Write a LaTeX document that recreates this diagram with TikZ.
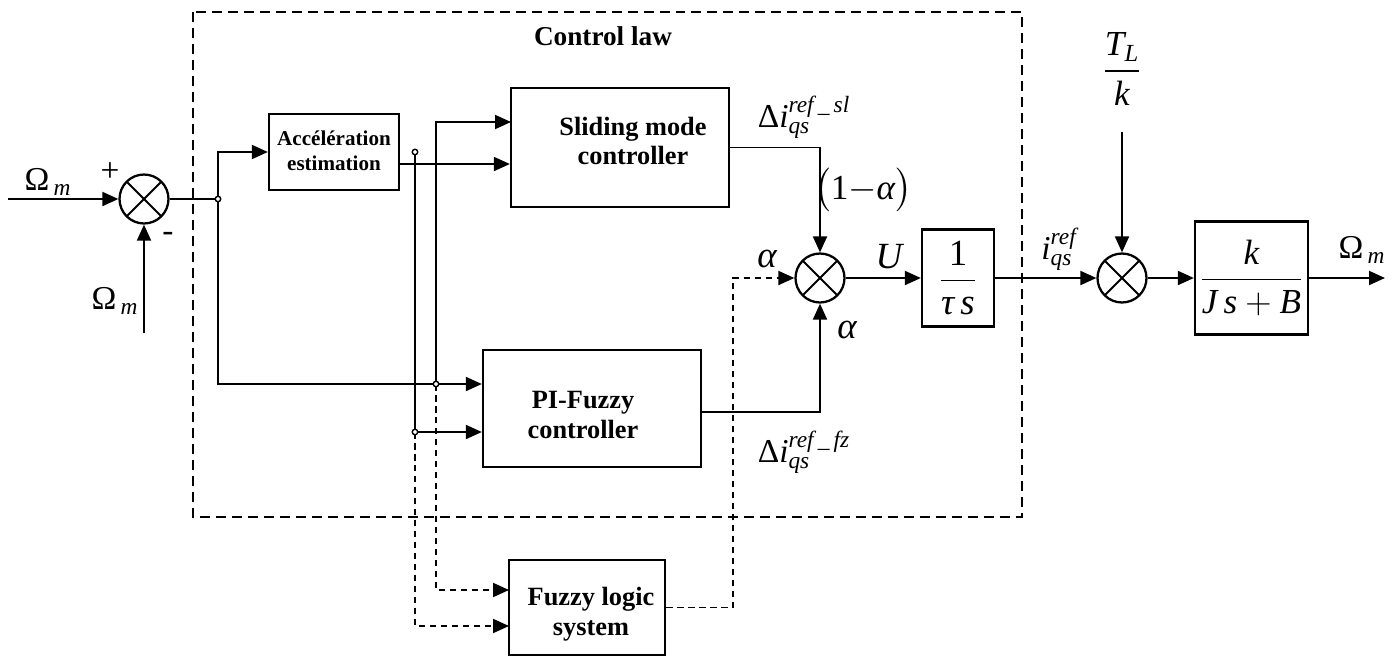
\documentclass[tikz,border=0pt]{standalone}
\usepackage{fontspec}
\setmainfont{Liberation Serif}
\usepackage{amsmath}
\usetikzlibrary{arrows.meta,calc}
\newcommand\mi[1]{\text{\itshape #1}}
\begin{document}
\begin{tikzpicture}[x=0.02cm,y=-0.02cm,line width=1.1pt,
  arr/.style={-{Triangle[length=0.32cm,width=0.28cm]}},
  box/.style 2 args={draw,line width=1.3pt,inner sep=0pt,minimum width=#1*0.02cm,minimum height=#2*0.02cm},
  sumj/.style={circle,draw,line width=1.3pt,minimum size=0.98cm,inner sep=0pt,
    path picture={\draw[line width=1.1pt] (path picture bounding box.north west)--(path picture bounding box.south east)
      (path picture bounding box.north east)--(path picture bounding box.south west);}},
  jdot/.style={circle,draw,fill=white,line width=0.8pt,inner sep=0pt,minimum size=0.11cm},
  dsig/.style={dash pattern=on 0.13cm off 0.09cm},
  cbox/.style={dash pattern=on 0.2cm off 0.12cm},
  bxfont/.style={font=\fontsize{15}{17}\selectfont\bfseries,align=center,inner sep=0pt},
  accfont/.style={font=\fontsize{12}{14.2}\selectfont\bfseries,align=center,inner sep=0pt},
  lbl/.style={font=\fontsize{19}{21}\selectfont,inner sep=0pt},
  lblb/.style={font=\fontsize{21}{23}\selectfont,inner sep=0pt}]
\useasboundingbox (0,0) rectangle (1397,656);

% control law frame
\draw[cbox] (193,12) rectangle (1022,517);
\node[font=\fontsize{15.5}{17}\selectfont\bfseries,inner sep=0pt] (title) at (603,36) {Control law};

% summing junctions
\node[sumj] (s1) at (144,199) {};
\node[sumj] (s2) at (820,278) {};
\node[sumj] (s3) at (1122,278) {};

% blocks
\node[box={130}{76}] (acc) at (334,152) {};
\node[accfont] (acct) at (334,151) {Accélération\\estimation};
\node[box={218}{119}] (slm) at (620,147.5) {};
\node[bxfont] (slmt) at (633,141) {Sliding mode\\controller};
\node[box={218}{117}] (pi) at (592,408.5) {};
\node[bxfont] (pit) at (583,415) {PI-Fuzzy\\controller};
\node[box={156}{95}] (fls) at (587,607.5) {};
\node[bxfont] (flst) at (591,614) {Fuzzy logic\\system};
\node[box={72}{97},font=\fontsize{21}{23}\selectfont] (tau) at (958,278) {$\dfrac{\text{1}}{\mi{τ}\,\mi{s}}$};
\node[box={113}{113},font=\fontsize{20}{22}\selectfont] (plant) at (1251.5,278) {$\dfrac{\mi{k}}{\mi{J}\,\mi{s}+\mi{B}}$};

% junction points and free ends
\coordinate (d1) at (218,199);
\coordinate (d2) at (415,152);
\coordinate (d3) at (415,432);
\coordinate (d4) at (436,384);
\coordinate (in1) at (8,199);
\coordinate (in2) at (144,333);
\coordinate (accout) at (399,164);
\coordinate (slmA) at (511,122);
\coordinate (flsA) at (509,590);
\coordinate (flsB) at (509,626);
\coordinate (piout) at (701,412);
\coordinate (ac) at (733,278);
\coordinate (tl) at (1122,132);
\coordinate (out) at (1385,278);

% connectors
\draw[arr] (in1) -- (s1.west);
\draw[arr] (in2) -- (s1.south);
\draw (s1.east) -- (d1);
\draw[arr] (d1) |- (acc.west);
\draw[arr] (d1) |- (pi.west |- d4);
\draw[arr] (accout) -- (slm.west |- accout);
\draw[arr] (d4) |- (slmA);
\draw (d2) -- (d3);
\draw[arr] (d3) -- (pi.west |- d3);
\draw[dsig,arr] (d4) |- (flsA);
\draw[dsig,arr] (d3) |- (flsB);
\draw[dsig,arr] (fls.east) -| (ac) -- (s2.west);
\draw[arr] (slm.east) -| (s2.north);
\draw[arr] (piout) -| (s2.south);
\draw[arr] (s2.east) -- (tau.west);
\draw[arr] (tau.east) -- (s3.west);
\draw[arr] (tl) -- (s3.north);
\draw[arr] (s3.east) -- (plant.west);
\draw[arr] (plant.east) -- (out);

% dots on top
\node[jdot] (d1n) at (d1) {};
\node[jdot] (d2n) at (d2) {};
\node[jdot] (d3n) at (d3) {};
\node[jdot] (d4n) at (d4) {};

% labels
\node[lbl] (om1) at (48,182) {$\text{Ω}_{\,\mi{m}}$};
\node[lbl] (plus) at (110,172) {+};
\node[lbl] (minus) at (168,237) {-};
\node[lbl] (om2) at (115,301) {$\text{Ω}_{\,\mi{m}}$};
\node[lbl] (dsl) at (804,117) {$\text{Δ}\mi{i}_{\mi{qs}}^{\mi{ref}\,\text{\_}\,\mi{sl}}$};
\node[font=\fontsize{20}{22}\selectfont,inner sep=0pt] (oma) at (863,190) {$\bigl(\text{1}{-}\mi{α}\bigr)$};
\node[lblb] (al1) at (767,259) {$\mi{α}$};
\node[lblb] (uu) at (889,257) {$\mi{U}$};
\node[lblb] (al2) at (847,330) {$\mi{α}$};
\node[lbl] (dfz) at (804,452) {$\text{Δ}\mi{i}_{\mi{qs}}^{\mi{ref}\,\text{\_}\,\mi{fz}}$};
\node[lbl] (iq) at (1059,249) {$\mi{i}_{\mi{qs}}^{\mi{ref}}$};
\node[font=\fontsize{20}{22}\selectfont,inner sep=0pt] (tlk) at (1122,69) {$\dfrac{\mi{T}_{\mi{L}}}{\mi{k}}$};
\node[lbl] (om3) at (1362,250) {$\text{Ω}_{\,\mi{m}}$};
\end{tikzpicture}
\end{document}
